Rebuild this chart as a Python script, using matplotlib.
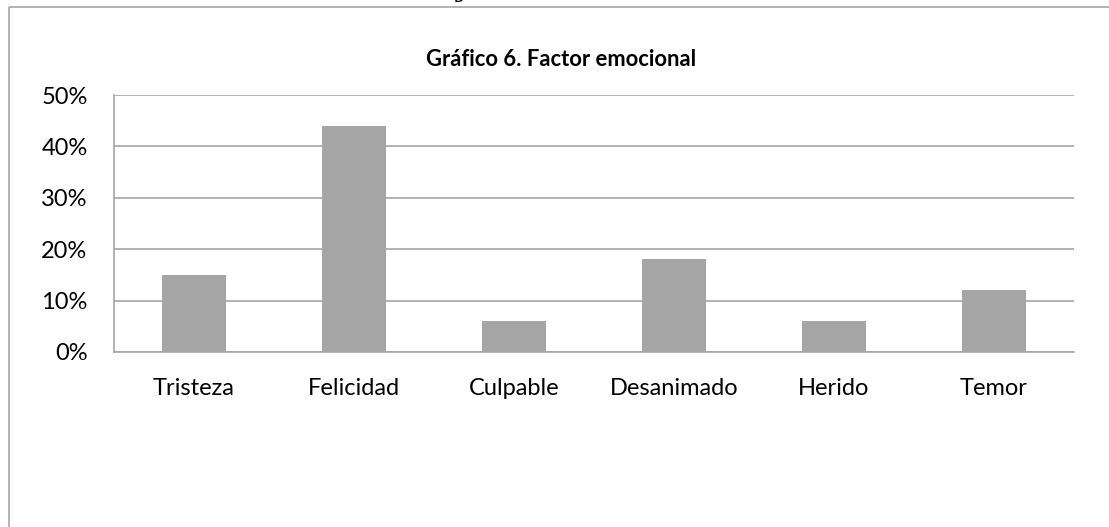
import matplotlib.pyplot as plt
from matplotlib.patches import Rectangle
from matplotlib.ticker import FuncFormatter

# --- Data ---
categories = ['Tristeza', 'Felicidad', 'Culpable', 'Desanimado', 'Herido', 'Temor']
values = [15, 44, 6, 18, 6, 12]
y_ticks = [0, 10, 20, 30, 40, 50]
title = 'Gráfico 6. Factor emocional'

# --- Style ---
W, H = 1109, 527
BAR_COLOR = '#A5A5A5'
GRID_COLOR = '#A6A6A6'
FONT = ['Lato', 'DejaVu Sans']

plt.rcParams['font.family'] = FONT

fig = plt.figure(figsize=(W / 100, H / 100), dpi=100)

# chart frame (cut off at right and bottom)
fig.patches.append(Rectangle((9 / W, 1 - 7 / H), 2.0, -2.0, transform=fig.transFigure,
                             fill=False, edgecolor=GRID_COLOR, linewidth=1.2))

# stray descender from the document text above the chart
fig.text(463 / W, 1 + 9 / H, 'y', fontsize=18, family='DejaVu Serif', style='italic',
         ha='center', va='center')

ax = fig.add_axes([114 / W, 1 - 352 / H, (1074 - 114) / W, (352 - 95) / H])
x = range(len(categories))
ax.bar(x, values, width=0.4, color=BAR_COLOR, zorder=3)

ax.set_xlim(-0.5, len(categories) - 0.5)
ax.set_ylim(0, 50)
ax.set_yticks(y_ticks)
ax.yaxis.set_major_formatter(FuncFormatter(lambda v, _: f'{v:.0f}%'))
ax.set_xticks(list(x))
ax.set_xticklabels(categories)
ax.tick_params(axis='both', length=0, labelsize=17, colors='black')
ax.tick_params(axis='x', pad=19)
ax.tick_params(axis='y', pad=19)
ax.grid(axis='y', color=GRID_COLOR, linewidth=1.2, zorder=0)

for side in ['top', 'right']:
    ax.spines[side].set_visible(False)
ax.spines['left'].set_color(GRID_COLOR)
ax.spines['bottom'].set_color(GRID_COLOR)
ax.spines['left'].set_linewidth(1.2)
ax.spines['bottom'].set_linewidth(1.2)

fig.text(561 / W, 1 - 60 / H, title, fontsize=15.8, fontweight='bold',
         ha='center', va='center')

fig.savefig('out.png', dpi=100)
